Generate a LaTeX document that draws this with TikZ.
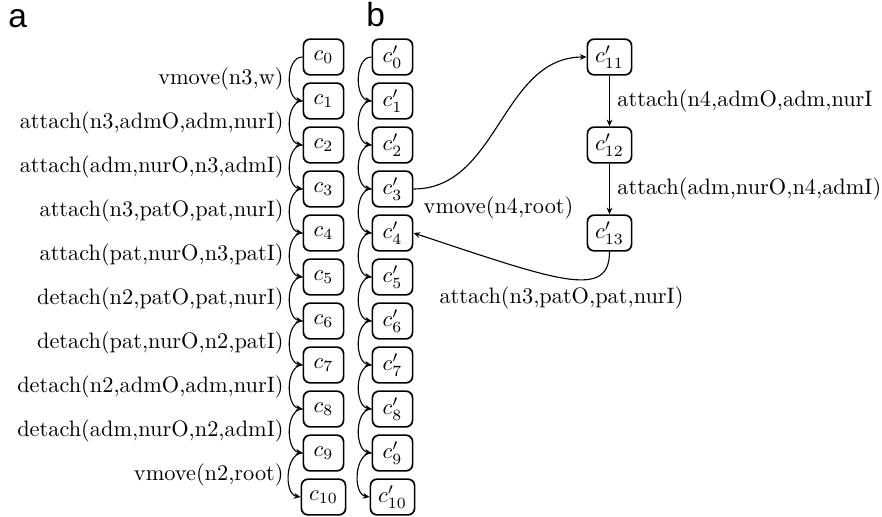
\documentclass[tikz,border=0pt]{standalone}
\usepackage{fontspec}
\newfontfamily\panelfont{Liberation Sans}
\usetikzlibrary{arrows.meta}
\begin{document}
\begin{tikzpicture}[x=0.4478pt,y=0.4478pt,
  state/.style={draw, line width=0.75pt, rounded corners=3pt,
    minimum width=18pt, minimum height=16pt, inner xsep=3.5pt, inner ysep=0pt},
  trans/.style={-{Stealth[length=3pt,width=2.6pt]}, line width=0.5pt},
  chain/.style={trans, out=180, in=170},
  lbl/.style={inner sep=0pt},
  panel/.style={anchor=base west, inner sep=0pt, font=\panelfont\fontsize{15}{15}\selectfont}]
\useasboundingbox (0,0) rectangle (882,-516);

% panel letters
\node[panel] (pa) at (8,-28) {a};
\node[panel] (pb) at (366,-27) {b};

% the two chains of configurations
\foreach \i in {0,...,10} {
  \node[state] (a\i) at (323.5,{-57-44*\i}) {$c_{\i}$};
  \node[state] (b\i) at (392.5,{-57-44*\i}) {$c'_{\i}$};
}
\foreach \i [evaluate=\i as \j using int(\i+1)] in {0,...,9} {
  \draw[chain] (a\i.west) to (a\j.west);
  \draw[chain] (b\i.west) to (b\j.west);
}

% transition labels of chain a
\foreach \t [count=\i from 0] in {{vmove(n3,w)},{attach(n3,admO,adm,nurI)},
  {attach(adm,nurO,n3,admI)},{attach(n3,patO,pat,nurI)},{attach(pat,nurO,n3,patI)},
  {detach(n2,patO,pat,nurI)},{detach(pat,nurO,n2,patI)},{detach(n2,admO,adm,nurI)},
  {detach(adm,nurO,n2,admI)},{vmove(n2,root)}} {
  \node[lbl, anchor=east] (l\i) at (284,{-79-44*\i}) {\t};
}

% side branch of chain b
\node[state] (b11) at (609.5,-57) {$c'_{11}$};
\node[state] (b12) at (609.5,-145) {$c'_{12}$};
\node[state] (b13) at (609.5,-233) {$c'_{13}$};
\draw[trans] (b11) -- (b12);
\draw[trans] (b12) -- (b13);
\node[lbl, anchor=west] (r1) at (617,-101) {attach(n4,admO,adm,nurI};
\node[lbl, anchor=west] (r2) at (617,-189) {attach(adm,nurO,n4,admI)};

\draw[trans] (b3.east) to[out=0,in=180] (b11.west);
\draw[trans] (b13.south) .. controls +(0,-49) and +(142,-47) .. (b4.east);
\node[lbl] (m1) at (498.5,-208) {vmove(n4,root)};
\node[lbl] (m2) at (561.5,-298) {attach(n3,patO,pat,nurI)};
\end{tikzpicture}
\end{document}
